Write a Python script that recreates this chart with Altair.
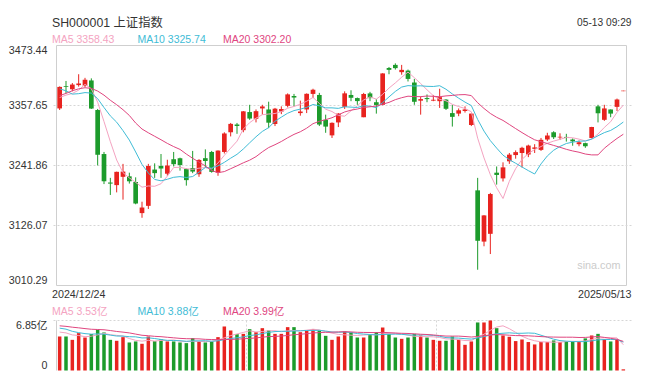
import altair as alt
import pandas as pd

# ---------------- data ----------------
title_text = "SH000001 上证指数"
time_text = "05-13 09:29"
first_date = "2024/12/24"
last_date = "2025/05/13"
price_ma_labels = ["MA5 3358.43", "MA10 3325.74", "MA20 3302.20"]
vol_ma_labels = ["MA5 3.53亿", "MA10 3.88亿", "MA20 3.99亿"]
price_ticks = [3473.44, 3357.65, 3241.86, 3126.07, 3010.29]
vol_ticks = [6.85, 0]
vol_tick_labels = ["6.85亿", "0"]

# closes / volumes of the 19 sessions before the first one shown (for the moving averages)
prior_closes = [3309.78, 3295.70, 3326.46, 3363.98, 3378.81, 3364.65, 3368.86, 3404.08, 3402.53,
                3422.66, 3432.49, 3461.50, 3391.88, 3386.33, 3361.49, 3370.03, 3382.21, 3368.07, 3351.26]
prior_vols = [6.1, 6.5, 6.9, 6.6, 6.8, 6.2, 6.0, 6.3, 6.6, 6.4,
              6.0, 7.2, 6.9, 5.9, 5.7, 5.2, 5.6, 5.5, 5.34]

opens = [3352.0, 3395.0, 3389.0, 3397.0, 3396.0, 3406.0,
         3349.0, 3264.0, 3209.0, 3204.0, 3220.0, 3221.0, 3210.0, 3150.0, 3164.0, 3234.0, 3241.0, 3226.0,
         3254.0, 3256.0, 3235.0, 3237.0, 3225.0, 3256.0,
         3268.0, 3228.0, 3268.0, 3306.0, 3321.0, 3310.0, 3345.0, 3332.0, 3352.0, 3350.0, 3322.0, 3346.0,
         3357.0, 3376.0, 3343.0, 3350.0, 3380.0, 3378.0,
         3330.0, 3300.0, 3325.0, 3355.0, 3378.0, 3372.0, 3335.0, 3381.0, 3364.0, 3359.0, 3430.0, 3436.0,
         3422.0, 3425.0, 3402.0, 3367.0, 3372.0, 3367.0, 3366.0, 3369.0, 3343.0,
         3342.0, 3347.0, 3320.0, 3193.9, 3095.0, 3110.0, 3228.0, 3217.0, 3250.0, 3262.0, 3266.0, 3263.0,
         3274.0, 3272.0, 3292.0, 3306.0, 3296.0, 3297.0, 3292.0, 3283.0, 3285.0,
         3295.0, 3356.0, 3330.0, 3350.0, 3355.0, 3385.3]
highs = [3394.5, 3405.0, 3401.0, 3418.0, 3411.0, 3410.0,
         3351.0, 3268.0, 3218.0, 3230.0, 3245.0, 3228.0, 3219.0, 3172.0, 3245.0, 3246.0, 3264.0, 3253.0,
         3268.0, 3257.0, 3236.0, 3270.0, 3254.0, 3273.0,
         3270.0, 3271.0, 3306.0, 3324.0, 3324.0, 3347.0, 3359.0, 3350.0, 3359.0, 3365.0, 3353.0, 3356.0,
         3381.0, 3380.0, 3367.0, 3381.0, 3390.0, 3382.0,
         3340.0, 3325.0, 3343.0, 3385.0, 3387.0, 3373.0, 3382.0, 3384.0, 3370.0, 3420.0, 3432.0, 3439.0,
         3436.0, 3427.0, 3409.0, 3375.0, 3379.0, 3378.0, 3390.0, 3370.0, 3359.0,
         3352.0, 3356.0, 3343.0, 3218.0, 3146.0, 3189.0, 3240.0, 3248.0, 3266.0, 3271.0, 3278.0, 3282.0,
         3283.0, 3295.0, 3305.0, 3308.0, 3304.0, 3303.0, 3294.0, 3290.0, 3286.0,
         3316.5, 3359.0, 3359.0, 3350.0, 3371.0, 3386.24]
lows = [3349.0, 3381.0, 3385.0, 3394.0, 3393.0, 3351.0,
        3242.0, 3206.0, 3185.0, 3190.0, 3176.0, 3207.0, 3167.0, 3141.0, 3158.0, 3218.0, 3218.0, 3222.0,
        3240.0, 3232.0, 3203.0, 3227.0, 3220.0, 3238.0,
        3228.0, 3222.0, 3265.0, 3298.0, 3303.0, 3306.0, 3330.0, 3325.0, 3340.0, 3314.0, 3318.0, 3341.0,
        3354.0, 3356.0, 3338.0, 3343.0, 3372.0, 3318.0,
        3305.0, 3295.0, 3316.0, 3351.0, 3366.0, 3359.0, 3335.0, 3366.0, 3342.0, 3358.0, 3418.0, 3427.0,
        3417.0, 3404.0, 3359.0, 3340.0, 3364.0, 3366.0, 3353.0, 3349.0, 3317.0,
        3337.0, 3344.0, 3318.0, 3040.69, 3086.0, 3071.0, 3205.0, 3211.0, 3245.0, 3255.0, 3238.0, 3258.0,
        3266.0, 3270.0, 3289.0, 3293.0, 3291.0, 3288.0, 3280.0, 3279.0, 3276.0,
        3294.0, 3325.0, 3328.0, 3335.0, 3347.0, 3385.3]
closes = [3393.53, 3393.35, 3398.08, 3400.14, 3407.33, 3351.76,
          3262.56, 3211.43, 3206.92, 3229.64, 3230.17, 3211.39, 3168.52, 3160.76, 3240.94, 3227.12,
          3236.03, 3241.82, 3244.38, 3242.62, 3213.62, 3230.16, 3252.63, 3250.60,
          3229.49, 3270.66, 3303.67, 3322.17, 3318.06, 3346.39, 3332.48, 3346.72, 3355.83, 3324.49,
          3351.54, 3350.78, 3379.11, 3373.03, 3346.04, 3380.21, 3388.06, 3320.90,
          3316.93, 3324.21, 3341.96, 3381.10, 3372.55, 3366.16, 3379.83, 3371.92, 3358.73, 3419.56,
          3426.43, 3429.76, 3426.43, 3408.95, 3364.83, 3370.03, 3369.98, 3368.70, 3373.75, 3351.31, 3335.75,
          3348.44, 3350.13, 3342.01, 3096.58, 3145.55, 3186.81, 3223.64, 3238.23, 3262.81, 3267.66,
          3276.00, 3280.34, 3276.73, 3291.43, 3299.76, 3296.36, 3297.29, 3295.06, 3288.41, 3286.65, 3279.03,
          3316.11, 3342.67, 3352.00, 3342.00, 3369.24, 3386.24]
volumes = [4.66, 4.66, 4.20, 5.12, 4.52, 5.00,
           5.58, 5.21, 4.20, 4.07, 4.57, 3.84, 3.98, 3.66, 4.66, 4.02, 4.29, 3.98,
           3.98, 3.84, 3.75, 4.43, 3.98, 3.84,
           3.98, 4.57, 6.03, 5.48, 4.98, 5.02, 5.66, 5.25, 5.80, 5.48, 5.02, 5.02,
           5.94, 5.94, 5.25, 5.48, 5.66, 5.48,
           4.75, 4.20, 4.66, 5.35, 5.25, 4.52, 4.52, 4.89, 5.25, 5.89, 5.02, 4.52,
           4.34, 4.52, 5.02, 4.79, 4.52, 4.20, 4.07, 4.07, 4.66,
           4.20, 3.52, 3.98, 6.58, 6.58, 6.85, 5.80, 4.80, 4.62, 4.03, 4.25, 3.90,
           3.57, 3.90, 3.90, 4.12, 3.90, 4.03, 4.03, 3.90, 4.40,
           4.80, 5.02, 4.29, 3.98, 4.20, 0.16]

# ---------------- styles ----------------
RED = "#e8231f"
GREEN = "#1c9b2b"
C_MA5 = "#f4a3c1"
C_MA10 = "#3fbcd6"
C_MA20 = "#e0467f"
TXT = "#333333"
FRAME = "#cfcfcf"
GRID = "#d6d6d6"
FONT = "Liberation Sans, Arial, Noto Sans CJK SC, sans-serif"

n = len(closes)
k = len(prior_closes)
cs = pd.Series(prior_closes + closes)
vs = pd.Series(prior_vols + volumes)

df = pd.DataFrame({
    "i": list(range(n)),
    "open": opens, "high": highs, "low": lows, "close": closes, "vol": volumes,
    "ma5": cs.rolling(5).mean().iloc[k:].values,
    "ma10": cs.rolling(10).mean().iloc[k:].values,
    "ma20": cs.rolling(20).mean().iloc[k:].values,
    "vma5": vs.rolling(5).mean().iloc[k:].values,
    "vma10": vs.rolling(10).mean().iloc[k:].values,
    "vma20": vs.rolling(20).mean().iloc[k:].values,
})
df["dir"] = ["up" if c >= o else "down" for o, c in zip(opens, closes)]

PW, PH = 580, 325          # whole plot (price + volume)
PRICE_H, VOL_H = 240, 50   # pixel heights of the two panels
P_TOP, P_BOT = price_ticks[0], price_ticks[-1]
P_MIN = P_TOP - (P_TOP - P_BOT) * PH / PRICE_H
V_MAX = vol_ticks[0] * PH / VOL_H

xs = alt.Scale(domain=[-0.5, n - 0.5], nice=False, zero=False)
ps = alt.Scale(domain=[P_MIN, P_TOP], nice=False, zero=False)
vsc = alt.Scale(domain=[0, V_MAX], nice=False, zero=False)


def X(f):
    return alt.X(f, type="quantitative", scale=xs, axis=None)


def YP(f):
    return alt.Y(f, type="quantitative", scale=ps, axis=None)


def YV(f):
    return alt.Y(f, type="quantitative", scale=vsc, axis=None)


color = alt.Color("dir:N", scale=alt.Scale(domain=["up", "down"], range=[RED, GREEN]), legend=None)
base = alt.Chart(df)

# ----- price panel -----
frame_df = pd.DataFrame({"x0": [-0.5], "x1": [n - 0.5], "y0": [P_BOT], "y1": [P_TOP]})
frame = alt.Chart(frame_df).mark_rect(fillOpacity=0, stroke=FRAME, strokeWidth=1).encode(
    x=X("x0"), x2="x1", y=YP("y0"), y2="y1")
grid = alt.Chart(pd.DataFrame({"v": price_ticks[1:-1]})).mark_rule(
    color=GRID, strokeDash=[2, 2], strokeWidth=1).encode(y=YP("v"))
wick = base.mark_rule(strokeWidth=1).encode(x=X("i"), y=YP("low"), y2="high", color=color)
body = base.mark_bar(width=4.7, orient="vertical").encode(x=X("i"), y=YP("open"), y2="close", color=color)
ma5 = base.mark_line(color=C_MA5, strokeWidth=1).encode(x=X("i"), y=YP("ma5"))
ma10 = base.mark_line(color=C_MA10, strokeWidth=1).encode(x=X("i"), y=YP("ma10"))
ma20 = base.mark_line(color=C_MA20, strokeWidth=1).encode(x=X("i"), y=YP("ma20"))

plab = pd.DataFrame({"v": price_ticks, "t": [f"{v:.2f}" for v in price_ticks]})


def ylab(d, baseline, yenc):
    return alt.Chart(d).mark_text(align="right", baseline=baseline, fontSize=10.7, font=FONT,
                                  color=TXT).encode(x=alt.value(-4), y=yenc("v"), text="t:N")


price = alt.layer(frame, grid, wick, body, ma5, ma10, ma20,
                  ylab(plab.iloc[[0]], "top", YP),
                  ylab(plab.iloc[1:-1], "middle", YP),
                  ylab(plab.iloc[[-1]], "bottom", YP))

# ----- volume panel -----
vtop = alt.Chart(pd.DataFrame({"v": [vol_ticks[0]]})).mark_rule(
    color=GRID, strokeDash=[2, 2], strokeWidth=1).encode(y=YV("v"))
vvert = alt.Chart(pd.DataFrame({"x": [29.5, 59.5], "y0": [0, 0], "y1": [vol_ticks[0]] * 2})).mark_rule(
    color=GRID, strokeDash=[2, 2], strokeWidth=1).encode(x=X("x"), y=YV("y0"), y2="y1")
vleft = alt.Chart(pd.DataFrame({"x": [-0.5], "y0": [0], "y1": [vol_ticks[0]]})).mark_rule(
    color=FRAME, strokeWidth=1).encode(x=X("x"), y=YV("y0"), y2="y1")
vbars = base.mark_bar(width=3.5, orient="vertical").encode(x=X("i"), y=YV("vol"), color=color)
vma5 = base.mark_line(color=C_MA5, strokeWidth=1).encode(x=X("i"), y=YV("vma5"))
vma10 = base.mark_line(color=C_MA10, strokeWidth=1).encode(x=X("i"), y=YV("vma10"))
vma20 = base.mark_line(color=C_MA20, strokeWidth=1).encode(x=X("i"), y=YV("vma20"))
vlab = pd.DataFrame({"v": vol_ticks, "t": vol_tick_labels})

volume = alt.layer(vtop, vvert, vleft, vbars, vma5, vma10, vma20,
                   ylab(vlab.iloc[[0]], "top", YV),
                   ylab(vlab.iloc[[1]], "bottom", YV))


# ----- free texts -----
def label(text, x, y, color=TXT, size=10.7, align="left"):
    return alt.Chart(pd.DataFrame({"t": [text]})).mark_text(
        align=align, baseline="middle", fontSize=size, font=FONT, color=color).encode(
        x=alt.value(x), y=alt.value(y), text="t:N")


ma_cols = [C_MA5, C_MA10, C_MA20]
ma_x = [0.5, 86, 171.5]
texts = [label(title_text, 0.5, -22.5, size=12.3),
         label(time_text, 580, -22.5, size=10.2, align="right"),
         label(first_date, 0.5, 249),
         label(last_date, 580, 249, align="right"),
         label("sina.com", 569, 220, color="#cbcbcb", size=10.8, align="right")]
for t, c, x in zip(price_ma_labels, ma_cols, ma_x):
    texts.append(label(t, x, -5.5, color=c, size=10.5))
for t, c, x in zip(vol_ma_labels, ma_cols, ma_x):
    texts.append(label(t, x, 266, color=c, size=10.5))

chart = alt.layer(price, volume, *texts).resolve_scale(y="independent").properties(
    width=PW, height=PH,
    autosize=alt.AutoSizeParams(type="none"),
    padding={"left": 43.5, "top": 37.5, "right": 16, "bottom": 2},
).configure_view(stroke=None)

chart.save("out.html", embed_options={"renderer": "svg", "actions": False})
